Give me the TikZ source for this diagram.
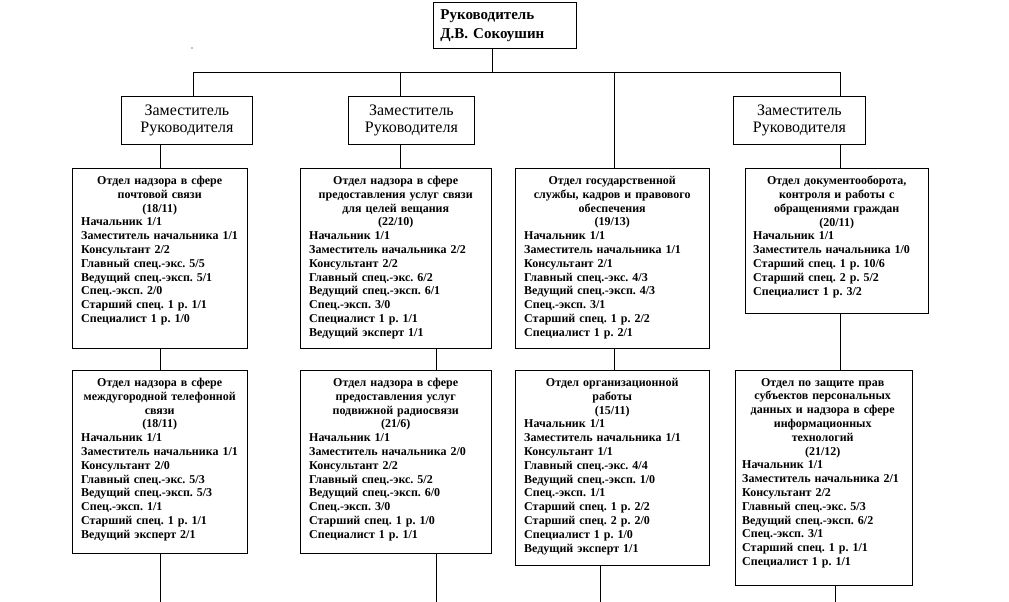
\documentclass[tikz,border=0pt]{standalone}
\usepackage{fontspec}
\setmainfont{Liberation Serif}
\frenchspacing
\begin{document}
\frenchspacing
\begin{tikzpicture}[x=1pt,y=-1pt,
  box/.style={draw, line width=0.8pt, inner sep=0pt, anchor=north west},
  conn/.style={line width=0.8pt},
  dtext/.style={inner sep=0pt, anchor=north west, font=\bfseries\fontsize{12}{13.8}\selectfont},
  deptext/.style={align=center, font=\fontsize{16}{17}\selectfont},
  toptext/.style={align=left, font=\bfseries\fontsize{15}{19}\selectfont}]
\useasboundingbox (0,0) rectangle (1009,602);
% top
\node[box, toptext, minimum width=143pt, minimum height=46pt, text width=129pt, inner xsep=7pt] (top) at (433,2) {Руководитель\\Д.В. Сокоушин};
\fill (192,48) circle (0.7pt);
% deputies
\node[box, deptext, minimum width=131pt, minimum height=48pt] (dep1) at (121,96) {Заместитель\\Руководителя};
\node[box, deptext, minimum width=126pt, minimum height=48pt] (dep2) at (348,96) {Заместитель\\Руководителя};
\node[box, deptext, minimum width=132pt, minimum height=48pt] (dep4) at (733,96) {Заместитель\\Руководителя};
% departments
\node[box, minimum width=175pt, minimum height=180pt] (d1) at (72,168) {};
\node[box, minimum width=191pt, minimum height=180pt] (d2) at (300,168) {};
\node[box, minimum width=194pt, minimum height=180pt] (d3) at (515,168) {};
\node[box, minimum width=183pt, minimum height=145pt] (d4) at (745,168) {};
\node[box, minimum width=175pt, minimum height=183pt] (d5) at (72,370) {};
\node[box, minimum width=191pt, minimum height=183pt] (d6) at (300,370) {};
\node[box, minimum width=194pt, minimum height=195pt] (d7) at (515,370) {};
\node[box, minimum width=177pt, minimum height=215pt] (d8) at (735,370) {};
% department texts
\node[dtext, text width=157pt] (t1) at ([xshift=9pt,yshift=-8pt]d1.north west) {{\centering Отдел надзора в сфере\\почтовой связи\\(18/11)\par}\raggedright
Начальник 1/1\\Заместитель начальника 1/1\\Консультант 2/2\\Главный спец.-экс. 5/5\\Ведущий спец.-эксп. 5/1\\Спец.-эксп. 2/0\\Старший спец. 1 р. 1/1\\Специалист 1 р. 1/0\par};
\node[dtext, text width=173pt] (t2) at ([xshift=9pt,yshift=-8pt]d2.north west) {{\centering Отдел надзора в сфере\\предоставления услуг связи\\для целей вещания\\(22/10)\par}\raggedright
Начальник 1/1\\Заместитель начальника 2/2\\Консультант 2/2\\Главный спец.-экс. 6/2\\Ведущий спец.-эксп. 6/1\\Спец.-эксп. 3/0\\Специалист 1 р. 1/1\\Ведущий эксперт 1/1\par};
\node[dtext, text width=176pt] (t3) at ([xshift=9pt,yshift=-8pt]d3.north west) {{\centering Отдел государственной\\службы, кадров и правового\\обеспечения\\(19/13)\par}\raggedright
Начальник 1/1\\Заместитель начальника 1/1\\Консультант 2/1\\Главный спец.-экс. 4/3\\Ведущий спец.-эксп. 4/3\\Спец.-эксп. 3/1\\Старший спец. 1 р. 2/2\\Специалист 1 р. 2/1\par};
\node[dtext, text width=167pt] (t4) at ([xshift=8pt,yshift=-8pt]d4.north west) {{\centering Отдел документооборота,\\контроля и работы с\\обращениями граждан\\(20/11)\par}\raggedright
Начальник 1/1\\Заместитель начальника 1/0\\Старший спец. 1 р. 10/6\\Старший спец. 2 р. 5/2\\Специалист 1 р. 3/2\par};
\node[dtext, text width=157pt] (t5) at ([xshift=9pt,yshift=-8pt]d5.north west) {{\centering Отдел надзора в сфере\\междугородной телефонной\\связи\\(18/11)\par}\raggedright
Начальник 1/1\\Заместитель начальника 1/1\\Консультант 2/0\\Главный спец.-экс. 5/3\\Ведущий спец.-эксп. 5/3\\Спец.-эксп. 1/1\\Старший спец. 1 р. 1/1\\Ведущий эксперт 2/1\par};
\node[dtext, text width=173pt] (t6) at ([xshift=9pt,yshift=-8pt]d6.north west) {{\centering Отдел надзора в сфере\\предоставления услуг\\подвижной радиосвязи\\(21/6)\par}\raggedright
Начальник 1/1\\Заместитель начальника 2/0\\Консультант 2/2\\Главный спец.-экс. 5/2\\Ведущий спец.-эксп. 6/0\\Спец.-эксп. 3/0\\Старший спец. 1 р. 1/0\\Специалист 1 р. 1/1\par};
\node[dtext, text width=176pt] (t7) at ([xshift=9pt,yshift=-8pt]d7.north west) {{\centering Отдел организационной\\работы\\(15/11)\par}\raggedright
Начальник 1/1\\Заместитель начальника 1/1\\Консультант 1/1\\Главный спец.-экс. 4/4\\Ведущий спец.-эксп. 1/0\\Спец.-эксп. 1/1\\Старший спец. 1 р. 2/2\\Старший спец. 2 р. 2/0\\Специалист 1 р. 1/0\\Ведущий эксперт 1/1\par};
\node[dtext, text width=161pt] (t8) at ([xshift=7pt,yshift=-8pt]d8.north west) {{\centering Отдел по защите прав\\субъектов персональных\\данных и надзора в сфере\\информационных\\технологий\\(21/12)\par}\raggedright
Начальник 1/1\\Заместитель начальника 2/1\\Консультант 2/2\\Главный спец.-экс. 5/3\\Ведущий спец.-эксп. 6/2\\Спец.-эксп. 3/1\\Старший спец. 1 р. 1/1\\Специалист 1 р. 1/1\par};
% junction coordinates
\coordinate (jT) at (492,72);
\coordinate (bL) at (193,72);
\coordinate (bR) at (840,72);
\coordinate (b3) at (614,72);
\coordinate (c1) at (160,0);
\coordinate (c2) at (400,0);
\coordinate (c2b) at (436,0);
\coordinate (c3b) at (600,0);
\coordinate (c4b) at (835,0);
\coordinate (e1) at (160,602);
\coordinate (e2) at (436,602);
\coordinate (e3) at (600,602);
\coordinate (e4) at (835,602);
% connectors
\draw[conn] (top.south -| jT) -- (jT);
\draw[conn] (bL) -- (bR);
\draw[conn] (bL) -- (bL |- dep1.north);
\draw[conn] (c2 |- bL) -- (c2 |- dep2.north);
\draw[conn] (bR) -- (bR |- dep4.north);
\draw[conn] (b3) -- (b3 |- d3.north);
\draw[conn] (dep1.south -| c1) -- (d1.north -| c1);
\draw[conn] (dep2.south -| c2) -- (d2.north -| c2);
\draw[conn] (dep4.south -| bR) -- (d4.north -| bR);
\draw[conn] (d1.south -| c1) -- (d5.north -| c1);
\draw[conn] (d2.south -| c2b) -- (d6.north -| c2b);
\draw[conn] (d3.south -| b3) -- (d7.north -| b3);
\draw[conn] (d4.south -| bR) -- (d8.north -| bR);
\draw[conn] (d5.south -| e1) -- (e1);
\draw[conn] (d6.south -| e2) -- (e2);
\draw[conn] (d7.south -| e3) -- (e3);
\draw[conn] (d8.south -| e4) -- (e4);
\end{tikzpicture}
\end{document}
